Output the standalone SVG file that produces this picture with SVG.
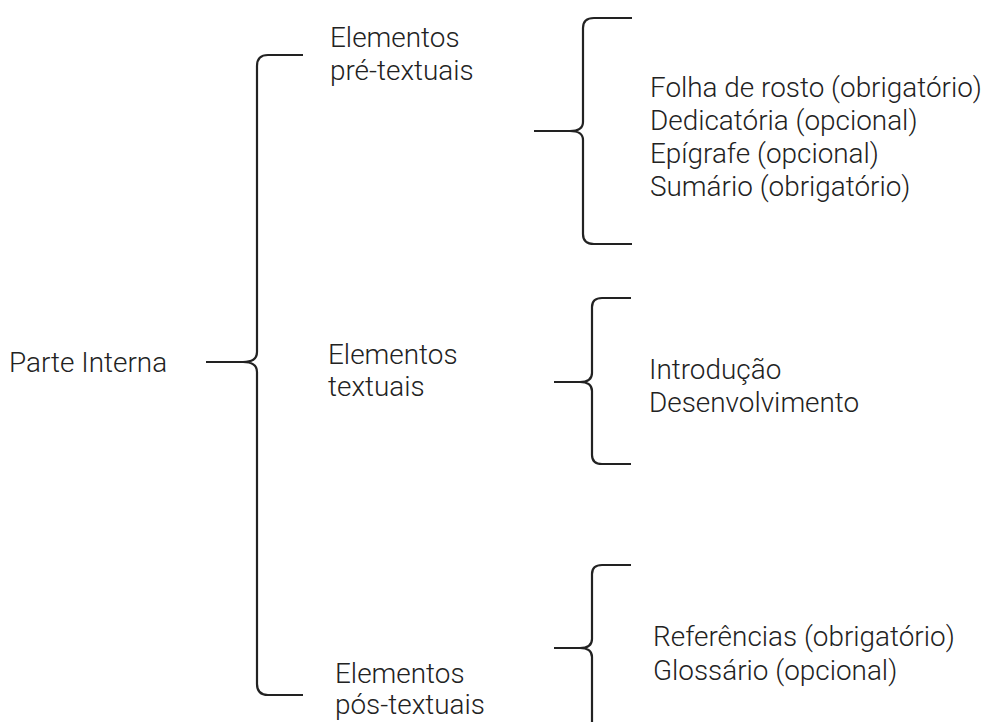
<svg xmlns="http://www.w3.org/2000/svg" width="985" height="722" viewBox="0 0 985 722">
<style>
.t{font-family:Roboto,"Liberation Sans",sans-serif;font-weight:300;font-size:27.9px;fill:#222}
.b{fill:none;stroke:#222;stroke-width:2.2;stroke-linecap:butt;stroke-linejoin:round}
</style>
<rect width="985" height="722" fill="#fff"/>
<g id="connectors">
<path class="b" d="M303,55 L268,55 Q257,55 257,66 L257,352 Q257,362 243,362 L206,362 M243,362 Q257,362 257,372 L257,684 Q257,695 268,695 L303,695"/>
<path class="b" d="M632,18 L594,18 Q583,18 583,28 L583,122 Q583,131 570,131 L534,131 M570,131 Q583,131 583,140 L583,234 Q583,244 594,244 L632,244"/>
<path class="b" d="M631,298 L602,298 Q592,298 592,307 L592,373 Q592,382 580,382 L554,382 M580,382 Q592,382 592,391 L592,455 Q592,464 602,464 L631,464"/>
<path class="b" d="M631,565 L602,565 Q592,565 592,574 L592,639 Q592,648 580,648 L554,648 M580,648 Q592,648 592,657 L592,730"/>
</g>
<g id="parte-interna"><text class="t" x="9" y="372">Parte Interna</text></g>
<g id="pre-textuais"><text class="t" x="330" y="47">Elementos</text><text class="t" x="330" y="80">pré-textuais</text></g>
<g id="textuais"><text class="t" x="328" y="364">Elementos</text><text class="t" x="328" y="396">textuais</text></g>
<g id="pos-textuais"><text class="t" x="335" y="683">Elementos</text><text class="t" x="335" y="714">pós-textuais</text></g>
<g id="pre-list">
<text class="t" x="650" y="97">Folha de rosto (obrigatório)</text>
<text class="t" x="650" y="130">Dedicatória (opcional)</text>
<text class="t" x="650" y="163">Epígrafe (opcional)</text>
<text class="t" x="650" y="196">Sumário (obrigatório)</text>
</g>
<g id="textuais-list">
<text class="t" x="649" y="379">Introdução</text>
<text class="t" x="649" y="412">Desenvolvimento</text>
</g>
<g id="pos-list">
<text class="t" x="653" y="646">Referências (obrigatório)</text>
<text class="t" x="653" y="680">Glossário (opcional)</text>
</g>
</svg>
